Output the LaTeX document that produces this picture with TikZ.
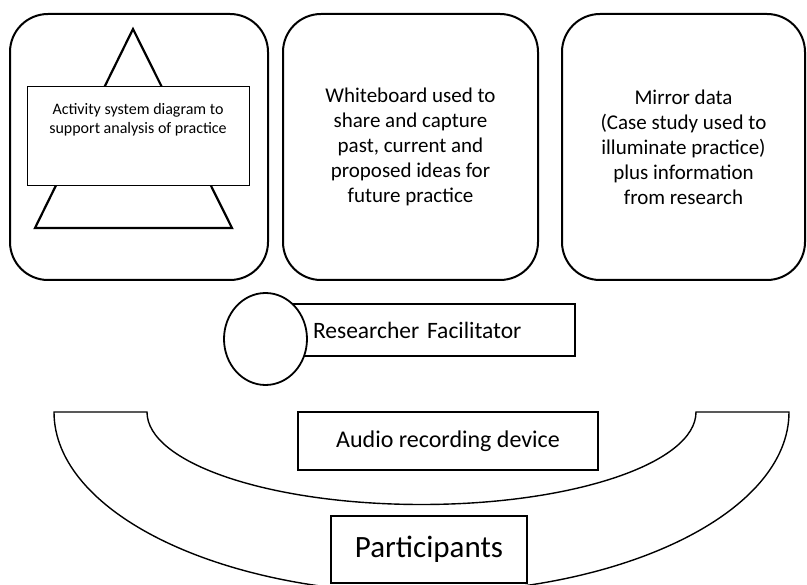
\documentclass[tikz,border=0pt]{standalone}
\usepackage{fontspec}
\setmainfont{Carlito}
\usetikzlibrary{shapes.geometric}
\usetikzlibrary{positioning}

\begin{document}
\begin{tikzpicture}[x=1pt, y=-1pt,
    roundbox/.style={draw=black, line width=2pt, rounded corners=38pt, rectangle, inner sep=0pt, align=center},
    plainbox/.style={draw=black, fill=white, rectangle, inner sep=0pt, align=center},
    boxtext/.style={font=\fontsize{21}{25}\selectfont}]
\useasboundingbox (0,0) rectangle (807,585);
\node[roundbox, minimum width=258pt, minimum height=266pt] (actround) at (139,147) {};
\node[roundbox, minimum width=255pt, minimum height=266pt, boxtext] (whiteboard) at (410.5,147)
  {Whiteboard used to\\share and capture\\past, current and\\proposed ideas for\\future practice};
\node[roundbox, minimum width=243pt, minimum height=266pt, boxtext] (mirror) at (683.5,147)
  {Mirror data\\(Case study used to\\illuminate practice)\\plus information\\from research};
\draw[line width=2.2pt, line join=miter] (133,29) -- (232,228) -- (35,228) -- cycle;
\node[plainbox, line width=1pt, minimum width=222pt, minimum height=99pt] (actbox) at (138,136.5) {};
\node[inner sep=0pt, align=center, font=\fontsize{16}{19}\selectfont, below=17pt of actbox.north] (acttext)
  {Activity system diagram to\\support analysis of practice};
\node[plainbox, line width=1.5pt, minimum width=285pt, minimum height=52pt, inner xsep=23pt,
  text width=239pt, align=left, font=\fontsize{23.5}{28}\selectfont] (resbox) at (432.5,330) {Researcher Facilitator};
\node[draw=black, fill=white, ellipse, line width=1.8pt, minimum width=83pt, minimum height=92pt, inner sep=0pt] (resface) at (265.5,339) {};
\draw[line width=1.4pt] (54,412) -- (147,412)
  arc[start angle=180, end angle=360, x radius=274.5pt, y radius=92.5pt]
  -- (789,412)
  arc[start angle=0, end angle=-180, x radius=367.5pt, y radius=181pt] -- cycle;
\node[plainbox, line width=1.5pt, minimum width=300pt, minimum height=58pt, font=\fontsize{24}{28}\selectfont] (audio) at (448,441) {Audio recording device};
\node[plainbox, line width=1.2pt, minimum width=196pt, minimum height=67pt, font=\fontsize{31}{36}\selectfont] (participants) at (429,549.5) {Participants};
\end{tikzpicture}
\end{document}
